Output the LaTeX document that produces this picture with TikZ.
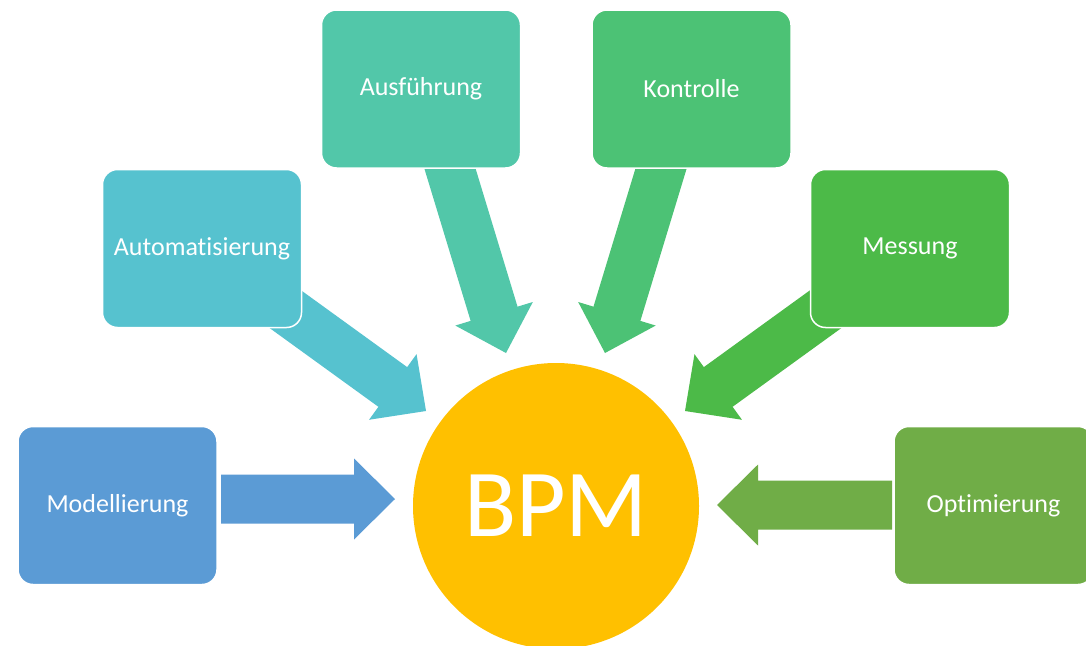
\documentclass[tikz,border=0pt]{standalone}
\usepackage{fontspec}
\setmainfont{Carlito}[Ligatures={NoCommon}]
\definecolor{cModel}{HTML}{5B9BD5}
\definecolor{cAuto}{HTML}{56C2CF}
\definecolor{cAusf}{HTML}{52C7A9}
\definecolor{cKontr}{HTML}{4CC275}
\definecolor{cMess}{HTML}{4CBA48}
\definecolor{cOpt}{HTML}{70AD47}
\definecolor{cBPM}{HTML}{FFC000}
\newcommand\bpmarrow[4]{% colour, tip coordinate, angle, length
  \fill[#1, shift={(#2)}, rotate=#3] (0,0) -- (-41,40.5) -- (-41,24.5) -- (-#4,24.5) -- (-#4,-24.5) -- (-41,-24.5) -- (-41,-40.5) -- cycle;}
\begin{document}
\begin{tikzpicture}[x=1pt,y=-1pt,
  box/.style={rounded corners=15pt, minimum width=199pt, minimum height=158pt,
    draw=white, line width=1.5pt, text=white, inner sep=0pt,
    font=\fontsize{26}{30}\selectfont},
  core/.style={circle, fill=cBPM, minimum size=286pt, inner sep=0pt, text=white,
    font=\fontsize{96}{110}\selectfont}]
\useasboundingbox (0,0) rectangle (1086,645);
\clip (0,0) rectangle (1086,645);
\fill[white] (0,0) rectangle (1086,645);

\node[core] (bpm) at (556,506) {BPM};

\coordinate (t1) at (395,499);
\coordinate (t2) at (426,411);
\coordinate (t3) at (506,353);
\coordinate (t4) at (605,353);
\coordinate (t5) at (685,411);
\coordinate (t6) at (717,505);

\bpmarrow{cModel}{t1}{0}{174}
\bpmarrow{cAuto}{t2}{-35.9}{200}
\bpmarrow{cAusf}{t3}{-73.1}{200}
\bpmarrow{cKontr}{t4}{-106.9}{200}
\bpmarrow{cMess}{t5}{-144.1}{200}
\bpmarrow{cOpt}{t6}{180}{175}

\node[box, fill=cModel] (model) at (117.5,505.5) {Modellierung};
\node[box, fill=cAuto] (auto) at (202,248.5) {Automatisierung};
\node[box, fill=cAusf] (ausf) at (421,89) {Ausführung};
\node[box, fill=cKontr] (kontr) at (691.5,89) {Kontrolle};
\node[box, fill=cMess] (mess) at (910,248.5) {Messung};
\node[box, fill=cOpt] (opt) at (993.5,505.5) {Optimierung};
\end{tikzpicture}
\end{document}
